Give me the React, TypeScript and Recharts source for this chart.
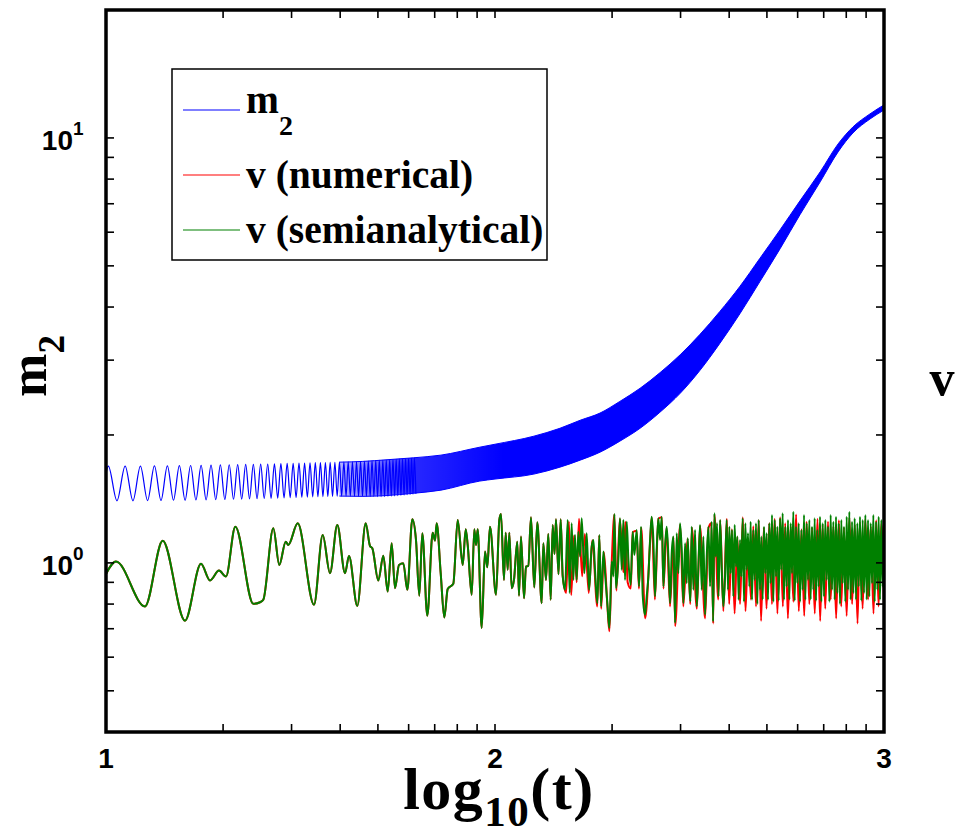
import React from "react";
import { ComposedChart, Line, Area, XAxis, YAxis } from "recharts";

const SERIF = '"Liberation Serif", "Times New Roman", serif';
const SANS = '"Liberation Sans", Arial, sans-serif';

// axis ticks (x is log10(t))
const X_MAJOR = [1, 2, 3];
const X_TICKS = [1, 1.301, 1.477, 1.602, 1.699, 1.778, 1.845, 1.903, 1.954, 2, 2.301, 2.477, 2.602, 2.699, 2.778, 2.845, 2.903, 2.954, 3];
const Y_TICKS = [0.5, 0.6, 0.7, 0.8, 0.9, 1, 2, 3, 4, 5, 6, 7, 8, 9, 10];
const Y_SUP: Record<number, string> = { 1: "0", 10: "1" };
const X_RANGE: [number, number] = [1, 3];
const Y_RANGE: [number, number] = [0.4, 20];

// plot box inside the 958x834 picture
const MARGIN = { top: 9, right: 73, bottom: 101, left: 105 };

// m2: single oscillations at early times [log10 t, m2]
const M2_WAVE: [number, number][] = [
  [1.0, 1.624],
  [1.006, 1.69], [1.0282, 1.4], [1.0492, 1.69], [1.0693, 1.4], [1.0885, 1.69], [1.1069, 1.402],
  [1.1245, 1.692], [1.1414, 1.402], [1.1578, 1.692], [1.1735, 1.404], [1.1886, 1.694], [1.2033, 1.404],
  [1.2175, 1.695], [1.2312, 1.406], [1.2445, 1.697], [1.2574, 1.407], [1.27, 1.698], [1.2822, 1.409],
  [1.294, 1.7], [1.3055, 1.41], [1.3168, 1.702], [1.3278, 1.412], [1.3385, 1.703], [1.3489, 1.413],
  [1.3591, 1.705], [1.369, 1.415], [1.3788, 1.706], [1.3883, 1.416], [1.3976, 1.708], [1.4067, 1.418],
  [1.4157, 1.709], [1.4244, 1.419], [1.433, 1.711], [1.4414, 1.421], [1.4496, 1.712], [1.4577, 1.422],
  [1.4657, 1.714], [1.4735, 1.424], [1.4811, 1.715], [1.4887, 1.425], [1.4961, 1.717], [1.5034, 1.427],
  [1.5105, 1.718], [1.5176, 1.428], [1.5245, 1.72], [1.5314, 1.43], [1.5381, 1.721], [1.5447, 1.431],
  [1.5512, 1.722], [1.5577, 1.432], [1.564, 1.723], [1.5702, 1.433], [1.5763, 1.724], [1.5824, 1.434],
  [1.5884, 1.725], [1.5943, 1.435], [1.6001, 1.726], [1.6058, 1.436], [1.6115, 1.727], [1.6171, 1.436],
  [1.6226, 1.728], [1.6281, 1.436], [1.6335, 1.729], [1.6388, 1.435], [1.644, 1.73], [1.6492, 1.435],
  [1.6544, 1.732], [1.6594, 1.434], [1.6644, 1.734], [1.6694, 1.434], [1.6743, 1.736], [1.6791, 1.433],
  [1.6839, 1.738], [1.6887, 1.433], [1.6934, 1.74], [1.698, 1.432], [1.7026, 1.742], [1.7071, 1.432],
  [1.7116, 1.744], [1.7161, 1.433], [1.7205, 1.746], [1.7249, 1.434], [1.7292, 1.748], [1.7334, 1.436],
  [1.7377, 1.75], [1.7419, 1.438], [1.746, 1.752], [1.7501, 1.44], [1.7542, 1.754], [1.7582, 1.442],
  [1.7622, 1.756], [1.7662, 1.444], [1.7701, 1.758], [1.774, 1.447], [1.7779, 1.76], [1.7817, 1.449],
  [1.7855, 1.762], [1.7892, 1.451], [1.7929, 1.764], [1.7966, 1.454],
];

// m2: envelope where the oscillations merge into a band [log10 t, low, high]
const M2_BAND: [number, number, number][] = [
  [1.6, 1.436, 1.726], [1.66, 1.434, 1.733], [1.72, 1.44, 1.748], [1.79, 1.458, 1.767], [1.861, 1.483, 1.793],
  [1.961, 1.558, 1.872], [2.0, 1.575, 1.902], [2.1, 1.618, 1.987], [2.167, 1.68, 2.074], [2.219, 1.745, 2.166],
  [2.27, 1.822, 2.252], [2.321, 1.934, 2.399], [2.373, 2.074, 2.576], [2.424, 2.262, 2.802],
  [2.476, 2.506, 3.088], [2.527, 2.839, 3.45], [2.578, 3.285, 3.905], [2.63, 3.863, 4.479],
  [2.681, 4.592, 5.209], [2.733, 5.488, 6.081], [2.784, 6.596, 7.113], [2.836, 7.883, 8.322],
  [2.882, 9.271, 9.681], [2.92, 10.27, 10.61], [2.964, 11.08, 11.39], [3.0, 11.63, 11.96],
];

// v: both solutions coincide here
const V_EARLY: [number, number][] = [
  [1.0, 0.942], [1.0257, 1.007], [1.1003, 0.79], [1.1458, 1.128], [1.2031, 0.731], [1.2442, 0.995],
  [1.2674, 0.909], [1.2905, 0.959], [1.3085, 0.929], [1.3324, 1.217], [1.3787, 0.801], [1.3959, 0.808],
  [1.4044, 0.819], [1.4301, 1.206], [1.4455, 0.989], [1.462, 1.122], [1.4686, 1.102], [1.4928, 1.239],
  [1.5347, 0.797], [1.5571, 1.163], [1.5758, 0.946], [1.5946, 1.228], [1.6144, 0.946], [1.6247, 1.038],
  [1.646, 0.792], [1.6676, 1.239], [1.6787, 1.096], [1.6846, 1.083], [1.7, 0.909], [1.7129, 1.04],
  [1.7242, 0.856], [1.7344, 1.112], [1.7429, 0.872], [1.7532, 0.989], [1.7643, 0.998], [1.7746, 0.864],
  [1.7874, 1.266], [1.7969, 1.132], [1.8054, 0.837], [1.8131, 1.174], [1.826, 0.751], [1.8398, 1.178],
  [1.8458, 1.128], [1.8501, 1.239], [1.8604, 0.946], [1.8697, 0.744], [1.8784, 0.868], [1.8928, 0.893],
  [1.9041, 1.262], [1.917, 0.989], [1.9247, 1.2], [1.9298, 1.102], [1.9401, 0.841], [1.9468, 1.2],
  [1.9512, 1.102], [1.9555, 1.2], [1.9658, 0.703], [1.9743, 1.063], [1.9802, 0.977], [1.9871, 1.217],
  [2.0026, 0.841], [2.0111, 1.262], [2.0154, 1.303], [2.0231, 0.912], [2.0275, 1.178], [2.0326, 0.963],
  [2.0368, 1.178], [2.0429, 0.872], [2.0488, 0.912], [2.0573, 1.122], [2.0617, 0.837], [2.0668, 1.153],
  [2.0746, 0.826], [2.0797, 0.98], [2.0856, 0.985], [2.0925, 1.28], [2.101, 0.875], [2.1087, 1.246],
  [2.12, 0.804], [2.1242, 1.112], [2.1311, 0.912], [2.137, 1.169], [2.1432, 0.819], [2.1483, 1.228],
  [2.153, 1.05], [2.1568, 1.266], [2.1632, 0.94], [2.1689, 1.266], [2.174, 0.932],
];

// v (semianalytical), later times
const V_GREEN_MID: [number, number][] = [
  [2.18, 0.864], [2.1869, 1.262], [2.192, 0.85], [2.1971, 1.239], [2.2014, 0.912], [2.2057, 1.163],
  [2.21, 0.912], [2.2143, 1.184], [2.2186, 1.035], [2.2229, 1.273], [2.2297, 0.946], [2.2357, 1.174],
  [2.2417, 0.864], [2.2486, 1.092], [2.2529, 1.132], [2.2571, 0.963], [2.2631, 0.804], [2.2683, 1.163],
  [2.2726, 0.79], [2.2786, 1.063], [2.2829, 0.946], [2.2888, 0.804], [2.294, 0.703], [2.3, 1.007],
  [2.3043, 0.929], [2.3068, 1.303], [2.3111, 0.872], [2.3171, 1.016], [2.3214, 1.273], [2.3257, 0.963],
  [2.33, 1.262], [2.3343, 0.912], [2.3386, 1.25], [2.3429, 1.016], [2.3488, 0.888], [2.354, 1.184],
  [2.3583, 1.044], [2.3643, 1.195], [2.3703, 0.88], [2.3754, 1.217], [2.3797, 0.841], [2.3857, 0.755],
  [2.39, 0.834], [2.3943, 0.929], [2.3986, 1.132], [2.4028, 1.284], [2.4071, 1.132], [2.4114, 0.834],
  [2.4157, 1.073], [2.42, 1.273], [2.4243, 1.132], [2.4286, 1.284], [2.4329, 0.88], [2.4371, 1.092],
  [2.4414, 1.217], [2.4457, 1.035], [2.45, 0.804], [2.4543, 1.054], [2.4586, 1.153], [2.4629, 0.722],
  [2.4671, 1.174], [2.4714, 0.946], [2.4757, 1.239], [2.48, 1.073], [2.4843, 0.804], [2.4886, 1.112],
  [2.4929, 0.896], [2.4954, 1.143], [2.4989, 0.929], [2.5023, 0.811], [2.5057, 1.217], [2.51, 0.864],
  [2.5143, 1.195], [2.5186, 0.79], [2.5229, 0.98], [2.5271, 1.228], [2.5314, 0.864], [2.5357, 1.153],
  [2.54, 0.755], [2.5443, 1.035], [2.5486, 1.217], [2.5529, 0.88], [2.5571, 1.25], [2.5606, 0.728],
  [2.564, 1.308], [2.5674, 1.035], [2.5709, 1.239], [2.5743, 0.834], [2.5786, 1.262], [2.5829, 0.963],
  [2.5871, 0.79], [2.5914, 0.929],
];

const V_GREEN_TAIL: [number, number][] = [
  [2.5955, 1.262], [2.599, 0.864], [2.6024, 1.217], [2.6058, 0.946], [2.6093, 1.195], [2.6127, 0.834],
  [2.6161, 1.228], [2.6195, 0.98], [2.623, 1.153], [2.6264, 0.819], [2.6298, 1.132], [2.6332, 0.929],
  [2.6367, 1.273], [2.6401, 0.81], [2.6435, 1.239], [2.647, 0.963], [2.6504, 1.174], [2.6538, 0.88],
  [2.6572, 1.25], [2.6607, 0.819], [2.6641, 1.195], [2.6675, 0.912], [2.671, 1.239], [2.6744, 0.8],
  [2.6778, 1.262], [2.6812, 0.864], [2.6847, 1.153], [2.6881, 0.82], [2.6915, 1.217], [2.695, 0.946],
  [2.6984, 1.174], [2.7018, 0.819], [2.7052, 1.239], [2.7087, 0.896], [2.7121, 1.296], [2.7155, 0.81],
  [2.719, 1.262], [2.7224, 0.929], [2.7258, 1.217], [2.7292, 0.815], [2.7327, 1.273], [2.7361, 0.963],
  [2.7395, 1.308], [2.7429, 0.819], [2.7464, 1.217], [2.7498, 0.88], [2.7532, 1.262], [2.7567, 0.82],
  [2.7601, 1.239], [2.7635, 0.946], [2.7669, 1.319], [2.7704, 0.815], [2.7738, 1.217], [2.7772, 0.896],
  [2.7807, 1.239], [2.7841, 0.81], [2.7875, 1.195], [2.7909, 0.864], [2.7944, 1.296], [2.7978, 0.819],
  [2.8012, 1.239], [2.8046, 0.912], [2.8081, 1.262], [2.8115, 0.82], [2.8149, 1.217], [2.8184, 0.864],
  [2.8218, 1.273], [2.8252, 0.815], [2.8286, 1.195], [2.8321, 0.88], [2.8355, 1.284], [2.8389, 0.81],
  [2.8424, 1.239], [2.8458, 0.834], [2.8492, 1.262], [2.8526, 0.912], [2.8561, 1.217], [2.8595, 0.81],
  [2.8629, 1.296], [2.8664, 0.864], [2.8698, 1.25], [2.8732, 0.82], [2.8766, 1.284], [2.8801, 0.849],
  [2.8835, 1.239], [2.8869, 0.8], [2.8903, 1.262], [2.8938, 0.896], [2.8972, 1.217], [2.9006, 0.81],
  [2.9041, 1.284], [2.9075, 0.864], [2.9109, 1.319], [2.9143, 0.82], [2.9178, 1.25], [2.9212, 0.849],
  [2.9246, 1.273], [2.9281, 0.82], [2.9315, 1.239], [2.9349, 0.88], [2.9383, 1.284], [2.9418, 0.815],
  [2.9452, 1.262], [2.9486, 0.849], [2.9521, 1.296], [2.9555, 0.82], [2.9589, 1.262], [2.9623, 0.834],
  [2.9658, 1.239], [2.9692, 0.896], [2.9726, 1.296], [2.976, 0.81], [2.9795, 1.25], [2.9829, 0.864],
  [2.9863, 1.284], [2.9897, 0.819], [2.9932, 1.262], [2.9966, 0.88], [3.0, 1.239],
];

// v (numerical), later times: deeper minima than the semianalytical curve
const V_RED_TAIL: [number, number][] = [
  [2.183, 0.85], [2.19, 1.25], [2.196, 0.84], [2.203, 1.16], [2.21, 0.9], [2.216, 1.27], [2.224, 0.93],
  [2.231, 1.17], [2.241, 0.85], [2.25, 1.13], [2.263, 0.79], [2.268, 1.16], [2.273, 0.78], [2.28, 1.06],
  [2.289, 0.79], [2.294, 0.69], [2.3, 1.0], [2.307, 1.3], [2.312, 0.86], [2.321, 1.27], [2.33, 0.95],
  [2.335, 1.25], [2.341, 0.9], [2.349, 0.87], [2.354, 1.18], [2.364, 1.19], [2.37, 0.87], [2.376, 1.21],
  [2.386, 0.74], [2.399, 1.13], [2.403, 1.28], [2.411, 0.82], [2.42, 1.27], [2.429, 1.28], [2.433, 0.87],
  [2.441, 1.21], [2.45, 0.79], [2.459, 1.15], [2.463, 0.71], [2.476, 1.23], [2.484, 0.79], [2.495, 1.14],
  [2.502, 0.8], [2.506, 1.21], [2.519, 0.78], [2.527, 1.22], [2.54, 0.74], [2.549, 1.21], [2.556, 1.24],
  [2.561, 0.72], [2.564, 1.3], [2.574, 0.82], [2.579, 1.26], [2.587, 0.77], [2.596, 1.27], [2.602, 0.8],
  [2.609, 1.2], [2.616, 0.76], [2.623, 1.15], [2.63, 0.8], [2.637, 1.28], [2.644, 0.77], [2.651, 1.14],
  [2.658, 0.82], [2.664, 1.22], [2.671, 0.79], [2.678, 1.26], [2.684, 0.73], [2.691, 1.21], [2.698, 0.78],
  [2.705, 1.24], [2.712, 0.8], [2.719, 1.27], [2.726, 0.76], [2.733, 1.28], [2.74, 0.79], [2.746, 1.24],
  [2.753, 0.74], [2.76, 1.22], [2.767, 0.81], [2.774, 1.3], [2.781, 0.77], [2.788, 1.2], [2.795, 0.75],
  [2.801, 1.25], [2.808, 0.8], [2.815, 1.21], [2.822, 0.76], [2.829, 1.27], [2.836, 0.73], [2.842, 1.23],
  [2.849, 0.78], [2.856, 1.25], [2.863, 0.82], [2.87, 1.22], [2.877, 0.74], [2.884, 1.26], [2.89, 0.79],
  [2.897, 1.21], [2.904, 0.75], [2.911, 1.28], [2.918, 0.8], [2.925, 1.23], [2.932, 0.72], [2.938, 1.25],
  [2.945, 0.78], [2.952, 1.27], [2.959, 0.82], [2.966, 1.22], [2.973, 0.76], [2.98, 1.26], [2.986, 0.79],
  [2.993, 1.24], [3.0, 0.8],
];

const LEGEND = [
  { name: "m", sub: "2", color: "#0000ff" },
  { name: "v (numerical)", sub: "", color: "#ff0000" },
  { name: "v (semianalytical)", sub: "", color: "#008000" },
];

const toPts = (arr: [number, number][]) => arr.map(([x, y]) => ({ x, y }));
const waveData = toPts(M2_WAVE);
const bandData = M2_BAND.map(([x, lo, hi]) => ({ x, range: [lo, hi] }));
const redData = toPts([...V_EARLY, ...V_RED_TAIL]);
const greenData = toPts([...V_EARLY, ...V_GREEN_MID, ...V_GREEN_TAIL]);

const TICK_LEN = 8;

function TickText({ x, y, size, anchor, children }: any) {
  return (
    <text
      x={x} y={y} textAnchor={anchor} fontSize={`${size}px`} fontFamily={SANS} fontWeight={700} fill="#000"
      style={{ fontSize: `${size}px`, fontFamily: SANS, fontWeight: 700 }}
    >
      {children}
    </text>
  );
}

function BottomTick({ x, y, payload }: any) {
  const v = payload.value;
  return (
    <g>
      <line x1={x} x2={x} y1={y} y2={y - TICK_LEN} stroke="#000" strokeWidth={1.6} />
      {X_MAJOR.includes(v) && <TickText x={x} y={y + 36} size={28} anchor="middle">{v}</TickText>}
    </g>
  );
}

function TopTick({ x, y }: any) {
  return <line x1={x} x2={x} y1={y} y2={y + TICK_LEN} stroke="#000" strokeWidth={1.6} />;
}

function LeftTick({ x, y, payload }: any) {
  const sup = Y_SUP[payload.value];
  return (
    <g>
      <line x1={x} x2={x + TICK_LEN} y1={y} y2={y} stroke="#000" strokeWidth={1.6} />
      {sup && <TickText x={x - 33} y={y + 12} size={28} anchor="end">10</TickText>}
      {sup && <TickText x={x - 33} y={y - 3} size={19} anchor="start">{sup}</TickText>}
    </g>
  );
}

function RightTick({ x, y }: any) {
  return <line x1={x} x2={x - TICK_LEN} y1={y} y2={y} stroke="#000" strokeWidth={1.6} />;
}

const axisCommon = { tickSize: 0, tickMargin: 0, tickLine: false, axisLine: false, interval: 0 as const };

export default function App() {
  const W = 958;
  const H = 834;
  const box = {
    x: MARGIN.left + 1,
    y: MARGIN.top + 1,
    w: W - MARGIN.left - MARGIN.right - 2,
    h: H - MARGIN.top - MARGIN.bottom - 2,
  };
  return (
    <div style={{ position: "absolute", left: 0, top: 0, width: W, height: H, background: "#fff" }}>
      <ComposedChart width={W} height={H} margin={MARGIN}>
        <defs>
          <linearGradient id="bandFade" x1="0" y1="0" x2="1" y2="0">
            <stop offset="0" stopColor="#0000ff" stopOpacity={0.3} />
            <stop offset="0.14" stopColor="#0000ff" stopOpacity={0.85} />
            <stop offset="0.3" stopColor="#0000ff" stopOpacity={1} />
            <stop offset="1" stopColor="#0000ff" stopOpacity={1} />
          </linearGradient>
        </defs>
        <XAxis
          dataKey="x" type="number" domain={X_RANGE} allowDataOverflow ticks={X_TICKS}
          height={1} {...axisCommon} tick={<BottomTick />}
        />
        <XAxis
          xAxisId="top" orientation="top" dataKey="x" type="number" domain={X_RANGE} allowDataOverflow
          ticks={X_TICKS} height={1} {...axisCommon} tick={<TopTick />}
        />
        <YAxis
          type="number" scale="log" domain={Y_RANGE} allowDataOverflow ticks={Y_TICKS}
          width={1} {...axisCommon} tick={<LeftTick />}
        />
        <YAxis
          yAxisId="right" orientation="right" type="number" scale="log" domain={Y_RANGE} allowDataOverflow
          ticks={Y_TICKS} width={1} {...axisCommon} tick={<RightTick />}
        />
        <Area
          data={bandData} dataKey="range" type="monotone" stroke="#0000ff" strokeWidth={1}
          fill="url(#bandFade)" fillOpacity={1} dot={false} activeDot={false} isAnimationActive={false}
        />
        <Line
          data={waveData} dataKey="y" type="monotone" stroke="#0000ff" strokeWidth={1.2}
          dot={false} activeDot={false} isAnimationActive={false}
        />
        <Line
          data={redData} dataKey="y" type="monotone" stroke="#ff0000" strokeWidth={2}
          dot={false} activeDot={false} isAnimationActive={false}
        />
        <Line
          data={greenData} dataKey="y" type="monotone" stroke="#008000" strokeWidth={2}
          dot={false} activeDot={false} isAnimationActive={false}
        />
      </ComposedChart>
      <svg width={W} height={H} style={{ position: "absolute", left: 0, top: 0, pointerEvents: "none" }}>
        <rect x={box.x} y={box.y} width={box.w} height={box.h} fill="none" stroke="#000" strokeWidth={3.5} />
        <rect x={172} y={69} width={375} height={191} fill="#fff" stroke="#000" strokeWidth={1.5} />
        {LEGEND.map((item, i) => {
          const ly = [110, 175, 230][i];
          return (
            <g key={item.name}>
              <line x1={183} x2={240} y1={ly} y2={ly} stroke={item.color} strokeWidth={1.2} />
              <text x={246} y={ly + (item.sub ? 3 : 13)} fontFamily={SERIF} fontWeight="bold" fontSize={39.5} fill="#000">
                {item.name}
                {item.sub && <tspan fontSize={28} dy={22}>{item.sub}</tspan>}
              </text>
            </g>
          );
        })}
        <text transform="translate(46, 366) rotate(-90)" textAnchor="middle" fontFamily={SERIF} fontWeight="bold" fontSize={52} fill="#000">
          m<tspan fontSize={37} dy={18}>2</tspan>
        </text>
        <text x={942} y={395} textAnchor="middle" fontFamily={SERIF} fontWeight="bold" fontSize={50} fill="#000">v</text>
        <text x={499} y={809} textAnchor="middle" fontFamily={SERIF} fontWeight="bold" fontSize={60} letterSpacing={1.5} fill="#000">
          log<tspan fontSize={43} dy={17}>10</tspan><tspan dy={-17}>(t)</tspan>
        </text>
      </svg>
    </div>
  );
}
